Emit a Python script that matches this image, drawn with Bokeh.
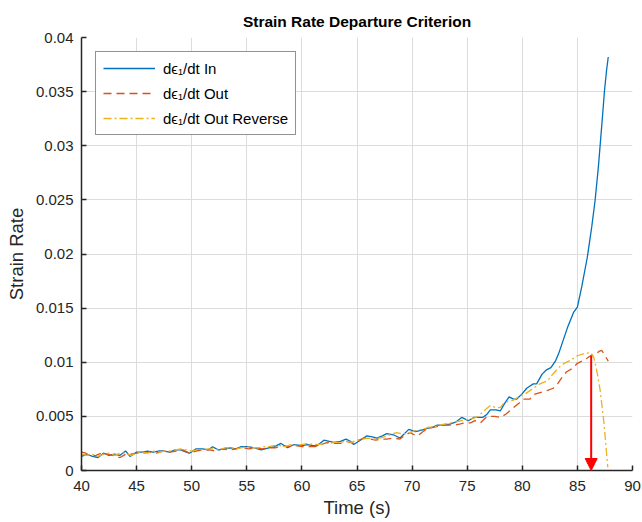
from bokeh.plotting import figure
from bokeh.models import Range1d, FixedTicker, Arrow, NormalHead, Legend, LegendItem
from bokeh.embed import file_html
from bokeh.resources import INLINE

# ---- data ----
t_in = [40.0, 40.5, 41.0, 41.5, 42.0, 42.5, 43.0, 43.5, 44.0, 44.4, 45.0, 45.5, 46.0, 46.5, 47.0,
        47.5, 48.0, 48.5, 49.0, 49.5, 49.8, 50.4, 51.0, 51.5, 51.9, 52.4, 53.0, 53.5, 54.0, 54.5,
        55.1, 55.7, 56.3, 57.0, 57.5, 58.1, 58.7, 59.3, 60.0, 60.5, 61.0, 61.4, 62.0, 62.5, 62.9,
        63.5, 64.0, 64.4, 64.7, 65.3, 65.9, 66.4, 66.8, 67.3, 67.7, 68.3, 68.9, 69.3, 69.7, 70.3,
        70.8, 71.4, 71.9, 72.3, 73.0, 73.5, 74.0, 74.5, 75.1, 75.6, 76.0, 76.4, 76.8, 77.1, 77.6,
        78.0, 78.4, 78.8, 79.2, 79.5, 80.0, 80.4, 80.7, 81.0, 81.3, 81.8, 82.2, 82.6, 83.0, 83.3,
        83.7, 84.1, 84.65, 85.0, 85.4, 85.9, 86.3, 86.6, 86.9, 87.1, 87.3, 87.46, 87.65, 87.8]
v_in = [0.0013, 0.0015, 0.0013, 0.0012, 0.0016, 0.0014, 0.0015, 0.0014, 0.0018, 0.0013, 0.0017, 0.0017, 0.0018, 0.0017, 0.0018,
        0.0018, 0.0017, 0.0019, 0.0019, 0.0017, 0.0016, 0.0020, 0.0020, 0.0019, 0.0022, 0.0019, 0.0020, 0.0021, 0.0020, 0.0022,
        0.0022, 0.0021, 0.0019, 0.0021, 0.0022, 0.0025, 0.0021, 0.0024, 0.0023, 0.0024, 0.0023, 0.0023, 0.0028, 0.0027, 0.0026,
        0.0027, 0.0029, 0.0027, 0.0024, 0.0028, 0.0032, 0.0031, 0.0030, 0.0032, 0.0034, 0.0033, 0.0030, 0.0034, 0.0038, 0.0036,
        0.0037, 0.0039, 0.0040, 0.0042, 0.0042, 0.0043, 0.0045, 0.0049, 0.0046, 0.0049, 0.0049, 0.0049, 0.0052, 0.0056, 0.0056,
        0.0055, 0.0062, 0.0068, 0.0066, 0.0066, 0.0071, 0.0076, 0.0078, 0.0080, 0.0080, 0.0089, 0.0093, 0.0095, 0.0101, 0.0108,
        0.0120, 0.0132, 0.0146, 0.0151, 0.0170, 0.0197, 0.0225, 0.0249, 0.0280, 0.0305, 0.0330, 0.0351, 0.0370, 0.0382]

t_out = [40.0, 40.4, 40.8, 41.3, 41.8, 42.3, 42.8, 43.5, 44.0, 44.5, 45.0, 45.6, 46.2, 46.8, 47.4,
         48.0, 48.6, 49.2, 49.8, 50.4, 51.0, 51.6, 52.2, 52.8, 53.4, 54.0, 54.6, 55.2, 55.8, 56.4,
         57.0, 57.6, 58.2, 58.8, 59.4, 60.0, 60.6, 61.2, 61.8, 62.3, 62.9, 63.5, 64.0, 64.7, 65.2,
         65.6, 66.2, 66.7, 67.1, 67.7, 68.3, 68.9, 69.4, 69.8, 70.2, 70.5, 71.0, 71.5, 72.0, 72.5,
         73.0, 73.5, 73.9, 74.4, 74.8, 75.3, 75.7, 76.2, 76.8, 77.1, 77.5, 78.0, 78.5, 79.2, 79.8,
         80.1, 80.7, 81.0, 81.6, 82.3, 82.8, 83.2, 83.6, 84.0, 84.5, 85.0, 85.6, 86.2, 86.6, 86.95,
         87.2, 87.4, 87.8]
v_out = [0.0017, 0.0016, 0.0013, 0.0014, 0.0016, 0.0015, 0.0014, 0.0012, 0.0015, 0.0015, 0.0016, 0.0016, 0.0017, 0.0016, 0.0018,
         0.0017, 0.0018, 0.0019, 0.0016, 0.0018, 0.0019, 0.0019, 0.0018, 0.0020, 0.0019, 0.0020, 0.0021, 0.0020, 0.0021, 0.0020,
         0.0021, 0.0021, 0.0023, 0.0022, 0.0023, 0.0022, 0.0022, 0.0022, 0.0024, 0.0026, 0.0025, 0.0025, 0.0027, 0.0025, 0.0028,
         0.0030, 0.0029, 0.0028, 0.0029, 0.0029, 0.0030, 0.0029, 0.0033, 0.0035, 0.0033, 0.0032, 0.0036, 0.0039, 0.0040, 0.0041,
         0.0042, 0.0042, 0.0042, 0.0043, 0.0044, 0.0044, 0.0046, 0.0044, 0.0050, 0.0050, 0.0050, 0.0049, 0.0052, 0.0058, 0.0063,
         0.0066, 0.0066, 0.0070, 0.0072, 0.0074, 0.0076, 0.0080, 0.0086, 0.0091, 0.0094, 0.0099, 0.0102, 0.0106, 0.0107, 0.0110,
         0.0111, 0.0108, 0.0101]

t_rev = [40.0, 40.5, 41.0, 41.5, 42.0, 42.5, 43.0, 43.5, 44.0, 44.5, 45.0, 45.5, 46.0, 46.5, 47.0,
         47.5, 48.0, 48.5, 49.0, 49.5, 50.0, 50.5, 51.0, 51.5, 52.0, 52.5, 53.0, 53.5, 54.0, 54.5,
         55.0, 55.5, 56.0, 56.5, 57.0, 57.5, 58.0, 58.5, 59.0, 59.5, 60.0, 60.5, 61.0, 61.5, 62.0,
         62.5, 63.0, 63.5, 64.0, 64.5, 65.0, 65.5, 66.0, 66.5, 67.0, 67.5, 68.0, 68.6, 69.0, 69.5,
         70.0, 70.4, 71.0, 71.5, 72.0, 72.5, 73.0, 73.5, 74.0, 74.5, 75.0, 75.5, 76.0, 76.5, 77.1,
         77.6, 78.0, 78.3, 78.8, 79.2, 79.8, 80.3, 81.0, 81.6, 82.3, 82.6, 83.3, 83.8, 84.4, 85.0,
         85.6, 86.2, 86.5, 86.8, 87.05, 87.25, 87.4, 87.55, 87.65, 87.76]
v_rev = [0.0015, 0.0014, 0.0015, 0.0013, 0.0015, 0.0016, 0.0014, 0.0016, 0.0016, 0.0014, 0.0016, 0.0017, 0.0016, 0.0018, 0.0017,
         0.0018, 0.0018, 0.0019, 0.0020, 0.0019, 0.0018, 0.0019, 0.0019, 0.0020, 0.0020, 0.0019, 0.0021, 0.0021, 0.0020, 0.0021,
         0.0022, 0.0021, 0.0021, 0.0022, 0.0022, 0.0023, 0.0023, 0.0022, 0.0024, 0.0023, 0.0024, 0.0025, 0.0024, 0.0024, 0.0025,
         0.0025, 0.0026, 0.0026, 0.0027, 0.0026, 0.0028, 0.0029, 0.0030, 0.0029, 0.0030, 0.0031, 0.0033, 0.0035, 0.0034, 0.0034,
         0.0036, 0.0037, 0.0038, 0.0040, 0.0040, 0.0042, 0.0043, 0.0044, 0.0045, 0.0046, 0.0047, 0.0048, 0.0050, 0.0055, 0.0060,
         0.0058, 0.0058, 0.0062, 0.0064, 0.0065, 0.0069, 0.0071, 0.0076, 0.0080, 0.0083, 0.0087, 0.0095, 0.0099, 0.0102, 0.0106,
         0.0108, 0.0109, 0.0104, 0.0090, 0.0075, 0.0058, 0.0045, 0.0028, 0.0015, 0.0003]

arrow_t = 86.25
arrow_from = 0.0106
arrow_to = 0.0

x_ticks = [40, 45, 50, 55, 60, 65, 70, 75, 80, 85, 90]
y_ticks = [0, 0.005, 0.01, 0.015, 0.02, 0.025, 0.03, 0.035, 0.04]
y_tick_labels = ["0", "0.005", "0.01", "0.015", "0.02", "0.025", "0.03", "0.035", "0.04"]

labels = ["d\u03f5\u2081/dt In", "d\u03f5\u2081/dt Out", "d\u03f5\u2081/dt Out Reverse"]

FONT = "Liberation Sans"
DARK = "#262626"

p = figure(width=642, height=522, output_backend="svg", toolbar_location=None,
           x_range=Range1d(40, 90), y_range=Range1d(0, 0.04),
           title="Strain Rate Departure Criterion")
p.min_border_left = 81
p.min_border_right = 10
p.min_border_top = 37
p.min_border_bottom = 52
p.outline_line_color = None
p.background_fill_color = "white"
p.border_fill_color = "white"

p.title.align = "center"
p.title.text_font = FONT
p.title.text_font_size = "15.5px"
p.title.text_font_style = "bold"
p.title.text_color = "black"
p.title.standoff = 16

for ax in (p.xaxis[0], p.yaxis[0]):
    ax.axis_line_color = DARK
    ax.axis_line_width = 1.5
    ax.major_tick_line_color = DARK
    ax.major_tick_line_width = 1.5
    ax.major_tick_in = 5
    ax.major_tick_out = 0
    ax.minor_tick_line_color = None
    ax.major_label_text_font = FONT
    ax.major_label_text_font_size = "15px"
    ax.major_label_text_color = DARK
    ax.axis_label_text_font = FONT
    ax.axis_label_text_font_size = "18.5px"
    ax.axis_label_text_font_style = "normal"
    ax.axis_label_text_color = DARK

p.xaxis.ticker = FixedTicker(ticks=x_ticks)
p.yaxis.ticker = FixedTicker(ticks=y_ticks)
p.yaxis.major_label_overrides = {t: l for t, l in zip(y_ticks, y_tick_labels)}
p.xaxis.axis_label = "Time (s)"
p.yaxis.axis_label = "Strain Rate"
p.xaxis.major_label_standoff = 10
p.yaxis.major_label_standoff = 8
p.xaxis.axis_label_standoff = 3
p.yaxis.axis_label_standoff = 6

p.xgrid.grid_line_color = "#dcdcdc"
p.ygrid.grid_line_color = "#dcdcdc"
p.xgrid.grid_line_width = 1
p.ygrid.grid_line_width = 1

r1 = p.line(t_in, v_in, line_color="#0072BD", line_width=1.3)
r2 = p.line(t_out, v_out, line_color="#D95319", line_width=1.3, line_dash="8 5")
r3 = p.line(t_rev, v_rev, line_color="#EDB120", line_width=1.3, line_dash="8 3 2 3")

arrow = Arrow(end=NormalHead(size=12, fill_color="#FF0000", line_color="#FF0000"),
              x_start=arrow_t, y_start=arrow_from, x_end=arrow_t, y_end=arrow_to,
              line_color="#FF0000", line_width=2)
p.add_layout(arrow)

legend = Legend(items=[LegendItem(label=labels[0], renderers=[r1]),
                       LegendItem(label=labels[1], renderers=[r2]),
                       LegendItem(label=labels[2], renderers=[r3])],
                location="top_left")
legend.margin = 14
legend.padding = 7
legend.spacing = 7
legend.glyph_width = 52
legend.glyph_height = 18
legend.label_height = 18
legend.label_standoff = 8
legend.label_text_font = FONT
legend.label_text_font_size = "15px"
legend.label_text_color = "black"
legend.border_line_color = DARK
legend.border_line_width = 1
legend.background_fill_color = "white"
legend.background_fill_alpha = 1
p.add_layout(legend)

open("out.html", "w").write(file_html(p, INLINE))
